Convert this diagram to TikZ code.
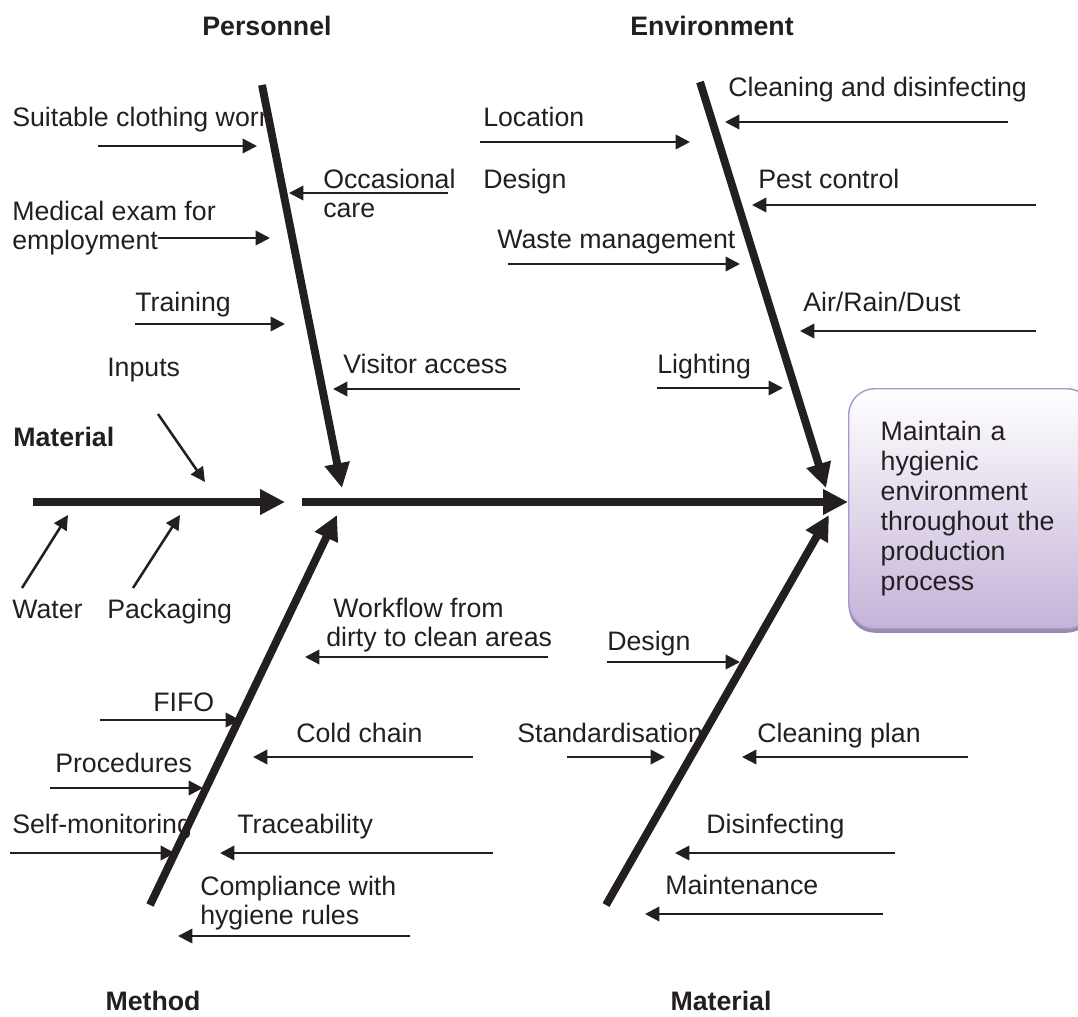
\documentclass[tikz,border=0pt]{standalone}
\usepackage{fontspec}
\setmainfont{Liberation Sans}
\usetikzlibrary{arrows.meta,positioning,shadows}
\definecolor{ink}{HTML}{231F20}
\definecolor{boxfill}{HTML}{C4B3D8}
\definecolor{boxedge}{HTML}{A996CC}
\definecolor{boxshade}{HTML}{8C7DA6}
\tikzset{every node/.style={text=ink, inner sep=0pt, font=\fontsize{19}{20.5}\selectfont},
cause/.style={anchor=base west},
causes/.style={anchor=north west, align=left},
heading/.style={anchor=base, font=\fontsize{19}{20.5}\selectfont\bfseries},
bone/.style={color=ink, line width=5.6pt, -{Triangle[length=0.62cm,width=0.6cm]}},
twig/.style={color=ink, line width=1.8pt, -{Triangle[length=0.36cm,width=0.36cm]}},
goalbox/.style={rectangle, rounded corners=0.65cm, draw=boxedge, line width=1pt,
  top color=white, bottom color=boxfill, align=left, text width=4.5cm,
  inner xsep=0.8cm, minimum height=6cm, font=\fontsize{19}{21.3}\selectfont,
  drop shadow={shadow xshift=0cm, shadow yshift=-0.1cm, fill=boxshade, opacity=0.9}}
}

\begin{document}
\begin{tikzpicture}[x=0.025cm, y=-0.025cm]
    \useasboundingbox (0,0) rectangle (1078,1017);

    % categories
    \node[heading] (pers) at (267,36) {Personnel};
    \node[heading] (env) at (712,36) {Environment};
    \node[heading, anchor=base west] (mat-l) at (13,446) {Material};
    \node[heading] (meth) at (153,1010) {Method};
    \node[heading] (mat-b) at (721,1010) {Material};

    % effect
    \node[goalbox, anchor=north west] (goal) at (848,388)
        {Maintain a\\hygienic\\environment\\throughout the\\production\\process};

    % spine and bones
    \coordinate (in-s) at (33,502);
    \coordinate (in-e) at (285,502);
    \coordinate (spine) at (302,502);
    \coordinate (pers-s) at (262,85);
    \coordinate (pers-e) at (342,488);
    \coordinate (env-s) at (700,82);
    \coordinate (env-e) at (826,488);
    \coordinate (meth-s) at (150,905);
    \coordinate (meth-e) at (337,515);
    \coordinate (matb-s) at (606,905);
    \coordinate (matb-e) at (829,515);

    \path[bone] (in-s) edge (in-e)
        (spine) edge (spine -| goal.west)
        (pers-s) edge (pers-e)
        (env-s) edge (env-e)
        (meth-s) edge (meth-e)
        (matb-s) edge (matb-e);

    % personnel
    \node[cause] (clothing) at (12,127) {Suitable clothing worn};
    \node[causes] (medical) at (12,201) {Medical exam for\\employment};
    \node[cause] (training) at (135,311) {Training};
    \node[causes] (care) at (323,169) {Occasional\\care};
    \node[cause] (visitor) at (343,373) {Visitor access};
    \coordinate (clothing-s) at (98,146);   \coordinate (clothing-e) at (257,146);
    \coordinate (medical-s) at (158,238);   \coordinate (medical-e) at (270,238);
    \coordinate (training-s) at (135,324);  \coordinate (training-e) at (285,324);
    \coordinate (care-s) at (448,193);      \coordinate (care-e) at (289,193);
    \coordinate (visitor-s) at (520,389);   \coordinate (visitor-e) at (333,389);

    % environment
    \node[cause] (location) at (483,127) {Location};
    \node[cause] (design-t) at (483,189) {Design};
    \node[cause] (waste) at (497,249) {Waste management};
    \node[cause] (lighting) at (657,373) {Lighting};
    \node[cause] (cleaning) at (728,97) {Cleaning and disinfecting};
    \node[cause] (pest) at (758,189) {Pest control};
    \node[cause] (air) at (803,312) {Air/Rain/Dust};
    \coordinate (location-s) at (480,142);  \coordinate (location-e) at (690,142);
    \coordinate (waste-s) at (508,264);     \coordinate (waste-e) at (740,264);
    \coordinate (lighting-s) at (657,388);  \coordinate (lighting-e) at (783,388);
    \coordinate (cleaning-s) at (1008,122); \coordinate (cleaning-e) at (725,122);
    \coordinate (pest-s) at (1036,205);     \coordinate (pest-e) at (752,205);
    \coordinate (air-s) at (1036,331);      \coordinate (air-e) at (800,331);

    % material (left)
    \node[cause] (inputs) at (107,376) {Inputs};
    \node[cause] (water) at (12,618) {Water};
    \node[cause] (packaging) at (107,618) {Packaging};
    \coordinate (inputs-s) at (158,414);    \coordinate (inputs-e) at (205,482);
    \coordinate (water-s) at (22,588);      \coordinate (water-e) at (68,515);
    \coordinate (packaging-s) at (133,588); \coordinate (packaging-e) at (180,515);

    % method
    \node[causes] (workflow) at (326,598) {\hspace*{0.18cm}Workflow from\\dirty to clean areas};
    \node[cause] (fifo) at (153,711) {FIFO};
    \node[cause] (procedures) at (55,772) {Procedures};
    \node[cause] (selfmon) at (12,833) {Self-monitoring};
    \node[cause] (coldchain) at (296,742) {Cold chain};
    \node[cause] (trace) at (237,833) {Traceability};
    \node[causes] (comply) at (200,876) {Compliance with\\hygiene rules};
    \coordinate (workflow-s) at (548,657);   \coordinate (workflow-e) at (305,657);
    \coordinate (fifo-s) at (100,720);       \coordinate (fifo-e) at (240,720);
    \coordinate (procedures-s) at (50,788);  \coordinate (procedures-e) at (203,788);
    \coordinate (selfmon-s) at (10,853);     \coordinate (selfmon-e) at (175,853);
    \coordinate (coldchain-s) at (473,757);  \coordinate (coldchain-e) at (253,757);
    \coordinate (trace-s) at (493,853);      \coordinate (trace-e) at (220,853);
    \coordinate (comply-s) at (410,936);     \coordinate (comply-e) at (178,936);

    % material (bottom)
    \node[cause] (design-b) at (607,650) {Design};
    \node[cause] (standard) at (517,742) {Standardisation};
    \node[cause] (cplan) at (757,742) {Cleaning plan};
    \node[cause] (disinf) at (706,833) {Disinfecting};
    \node[cause] (maint) at (665,894) {Maintenance};
    \coordinate (design-b-s) at (607,662);  \coordinate (design-b-e) at (740,662);
    \coordinate (standard-s) at (567,757);  \coordinate (standard-e) at (665,757);
    \coordinate (cplan-s) at (968,757);     \coordinate (cplan-e) at (742,757);
    \coordinate (disinf-s) at (895,853);    \coordinate (disinf-e) at (675,853);
    \coordinate (maint-s) at (883,914);     \coordinate (maint-e) at (645,914);

    \path[twig] (clothing-s) edge (clothing-e)
        (medical-s) edge (medical-e)
        (training-s) edge (training-e)
        (care-s) edge (care-e)
        (visitor-s) edge (visitor-e)
        (location-s) edge (location-e)
        (waste-s) edge (waste-e)
        (lighting-s) edge (lighting-e)
        (cleaning-s) edge (cleaning-e)
        (pest-s) edge (pest-e)
        (air-s) edge (air-e)
        (inputs-s) edge (inputs-e)
        (water-s) edge (water-e)
        (packaging-s) edge (packaging-e)
        (workflow-s) edge (workflow-e)
        (fifo-s) edge (fifo-e)
        (procedures-s) edge (procedures-e)
        (selfmon-s) edge (selfmon-e)
        (coldchain-s) edge (coldchain-e)
        (trace-s) edge (trace-e)
        (comply-s) edge (comply-e)
        (design-b-s) edge (design-b-e)
        (standard-s) edge (standard-e)
        (cplan-s) edge (cplan-e)
        (disinf-s) edge (disinf-e)
        (maint-s) edge (maint-e);
\end{tikzpicture}
\end{document}
